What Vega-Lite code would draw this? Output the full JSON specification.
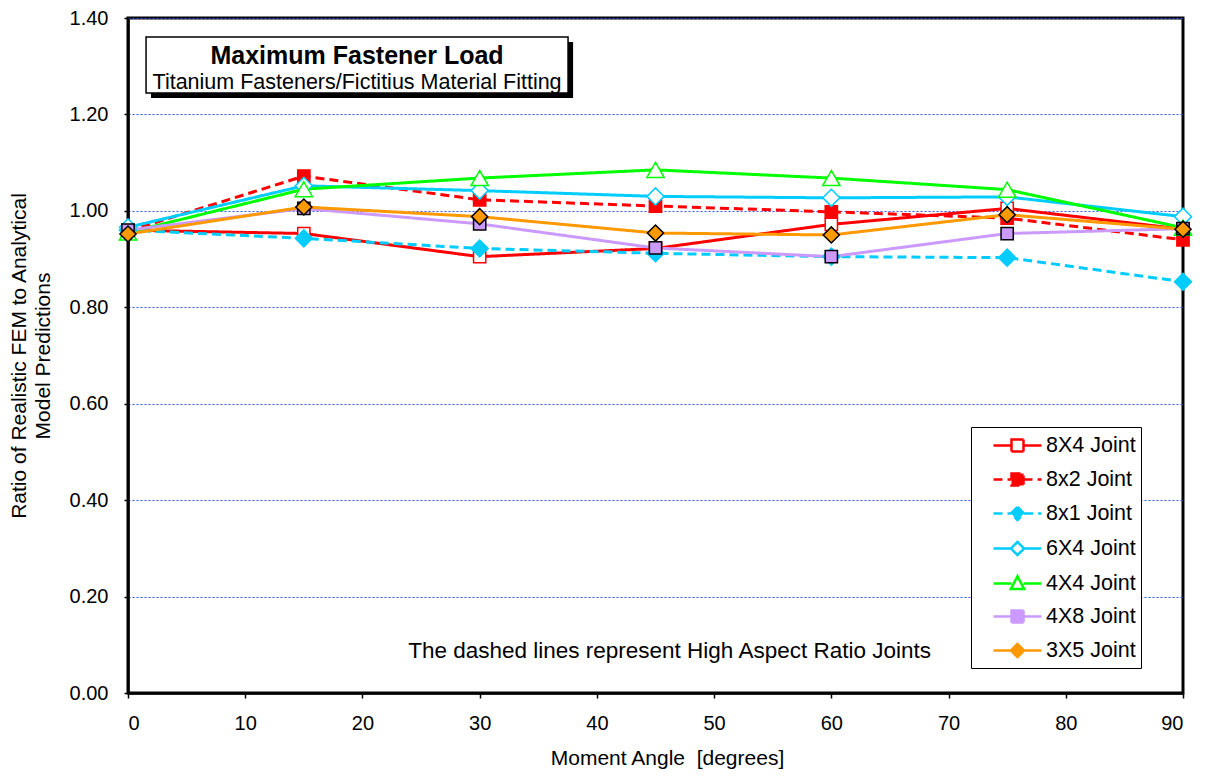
{
  "$schema": "https://vega.github.io/schema/vega-lite/v6.json",
  "autosize": "none",
  "width": 1055,
  "height": 675,
  "padding": {"left": 128, "top": 18, "right": 22, "bottom": 83},
  "background": "white",
  "config": {
    "font": "Liberation Sans",
    "view": {"stroke": "black", "strokeWidth": 3},
    "axis": {"labelFont": "Liberation Sans", "titleFont": "Liberation Sans", "labelColor": "black", "titleColor": "black", "titleFontWeight": "normal", "domainColor": "black", "domainWidth": 2.5, "tickColor": "black", "tickWidth": 1.5, "labelFontSize": 20, "titleFontSize": 21},
    "axisX": {"grid": false, "tickSize": 5, "labelPadding": 15, "titlePadding": 14},
    "axisY": {"grid": true, "gridColor": "#3355ff", "gridDash": [2, 2], "gridWidth": 1, "tickSize": 4, "labelPadding": 16, "titlePadding": 16, "titleLineHeight": 24},
    "legend": {"symbolOpacity": 1, "symbolSize": 576, "symbolStrokeWidth": 2.5, "labelFontSize": 21.5, "labelFont": "Liberation Sans", "labelColor": "black"}
  },
  "datasets": {
    "joints": [
      {"series": "8X4 Joint", "angle": 0, "ratio": 0.960},
      {"series": "8X4 Joint", "angle": 15, "ratio": 0.953},
      {"series": "8X4 Joint", "angle": 30, "ratio": 0.905},
      {"series": "8X4 Joint", "angle": 45, "ratio": 0.922},
      {"series": "8X4 Joint", "angle": 60, "ratio": 0.972},
      {"series": "8X4 Joint", "angle": 75, "ratio": 1.005},
      {"series": "8X4 Joint", "angle": 90, "ratio": 0.962},
      {"series": "8x2 Joint", "angle": 0, "ratio": 0.958},
      {"series": "8x2 Joint", "angle": 15, "ratio": 1.072},
      {"series": "8x2 Joint", "angle": 30, "ratio": 1.023},
      {"series": "8x2 Joint", "angle": 45, "ratio": 1.010},
      {"series": "8x2 Joint", "angle": 60, "ratio": 0.998},
      {"series": "8x2 Joint", "angle": 75, "ratio": 0.985},
      {"series": "8x2 Joint", "angle": 90, "ratio": 0.940},
      {"series": "8x1 Joint", "angle": 0, "ratio": 0.960},
      {"series": "8x1 Joint", "angle": 15, "ratio": 0.943},
      {"series": "8x1 Joint", "angle": 30, "ratio": 0.922},
      {"series": "8x1 Joint", "angle": 45, "ratio": 0.912},
      {"series": "8x1 Joint", "angle": 60, "ratio": 0.905},
      {"series": "8x1 Joint", "angle": 75, "ratio": 0.903},
      {"series": "8x1 Joint", "angle": 90, "ratio": 0.853},
      {"series": "6X4 Joint", "angle": 0, "ratio": 0.966},
      {"series": "6X4 Joint", "angle": 15, "ratio": 1.052},
      {"series": "6X4 Joint", "angle": 30, "ratio": 1.042},
      {"series": "6X4 Joint", "angle": 45, "ratio": 1.030},
      {"series": "6X4 Joint", "angle": 60, "ratio": 1.027},
      {"series": "6X4 Joint", "angle": 75, "ratio": 1.029},
      {"series": "6X4 Joint", "angle": 90, "ratio": 0.988},
      {"series": "4X4 Joint", "angle": 0, "ratio": 0.955},
      {"series": "4X4 Joint", "angle": 15, "ratio": 1.045},
      {"series": "4X4 Joint", "angle": 30, "ratio": 1.068},
      {"series": "4X4 Joint", "angle": 45, "ratio": 1.085},
      {"series": "4X4 Joint", "angle": 60, "ratio": 1.068},
      {"series": "4X4 Joint", "angle": 75, "ratio": 1.044},
      {"series": "4X4 Joint", "angle": 90, "ratio": 0.965},
      {"series": "4X8 Joint", "angle": 0, "ratio": 0.960},
      {"series": "4X8 Joint", "angle": 15, "ratio": 1.005},
      {"series": "4X8 Joint", "angle": 30, "ratio": 0.973},
      {"series": "4X8 Joint", "angle": 45, "ratio": 0.923},
      {"series": "4X8 Joint", "angle": 60, "ratio": 0.905},
      {"series": "4X8 Joint", "angle": 75, "ratio": 0.953},
      {"series": "4X8 Joint", "angle": 90, "ratio": 0.963},
      {"series": "3X5 Joint", "angle": 0, "ratio": 0.952},
      {"series": "3X5 Joint", "angle": 15, "ratio": 1.008},
      {"series": "3X5 Joint", "angle": 30, "ratio": 0.988},
      {"series": "3X5 Joint", "angle": 45, "ratio": 0.954},
      {"series": "3X5 Joint", "angle": 60, "ratio": 0.950},
      {"series": "3X5 Joint", "angle": 75, "ratio": 0.992},
      {"series": "3X5 Joint", "angle": 90, "ratio": 0.962}
    ],
    "one": [{"item": "annotation"}]
  },
  "layer": [
    {
      "data": {"name": "joints"},
      "mark": {"type": "line", "strokeWidth": 3},
      "encoding": {
        "x": {"field": "angle", "type": "quantitative",
          "scale": {"domain": [0, 90], "nice": false, "zero": false},
          "axis": {"values": [0,10,20,30,40,50,60,70,80,90], "title": "Moment Angle \u00a0[degrees]", "titleX": 539}},
        "y": {"field": "ratio", "type": "quantitative",
          "scale": {"domain": [0, 1.4], "nice": false},
          "axis": {"values": [0,0.2,0.4,0.6,0.8,1.0,1.2,1.4], "format": ".2f", "title": ["Ratio of Realistic FEM to Analytical", "Model Predictions"]}},
        "color": {"field": "series", "type": "nominal",
          "scale": {"domain": ["8X4 Joint","8x2 Joint","8x1 Joint","6X4 Joint","4X4 Joint","4X8 Joint","3X5 Joint"],
                    "range": ["#ff0000","#ff0000","#00ccff","#00ccff","#00ff00","#cc99ff","#ff9900"]},
          "legend": {
            "title": null, "orient": "none", "legendX": 843, "legendY": 409,
            "fillColor": "white", "strokeColor": "black", "padding": 5,
            "symbolOffset": 28, "labelOffset": 15, "rowPadding": 9
          }},
        "strokeDash": {"field": "series", "type": "nominal",
          "scale": {"domain": ["8X4 Joint","8x2 Joint","8x1 Joint","6X4 Joint","4X4 Joint","4X8 Joint","3X5 Joint"],
                    "range": [[1,0],[9,5],[9,5],[1,0],[1,0],[1,0],[1,0]]}}
      }
    },
    {
      "data": {"name": "joints"},
      "mark": {"type": "point", "opacity": 0},
      "encoding": {
        "x": {"field": "angle", "type": "quantitative"},
        "y": {"field": "ratio", "type": "quantitative"},
        "shape": {"field": "series", "type": "nominal",
          "scale": {"domain": ["8X4 Joint","8x2 Joint","8x1 Joint","6X4 Joint","4X4 Joint","4X8 Joint","3X5 Joint"],
                    "range": [
                      "M-2,0H-0.5M0.5,0H2M-0.5,-0.5H0.5V0.5H-0.5Z",
                      "M-2,0H-0.5M0.5,0H2M-0.5,-0.5H0.5V0.5H-0.5Z",
                      "M-2,0H-0.55M0.55,0H2M0,-0.55L0.55,0L0,0.55L-0.55,0Z",
                      "M-2,0H-0.55M0.55,0H2M0,-0.55L0.55,0L0,0.55L-0.55,0Z",
                      "M-2,0H-0.5M0.5,0H2M0,-0.6L0.55,0.45L-0.55,0.45Z",
                      "M-2,0H-0.5M0.5,0H2M-0.5,-0.5H0.5V0.5H-0.5Z",
                      "M-2,0H-0.55M0.55,0H2M0,-0.55L0.55,0L0,0.55L-0.55,0Z"
                    ]},
          "legend": {
            "title": null, "orient": "none", "legendX": 843, "legendY": 409,
            "fillColor": "white", "strokeColor": "black", "padding": 5,
            "symbolOffset": 28, "labelOffset": 15, "rowPadding": 9
          }}
      }
    },
    {
      "data": {"name": "joints"},
      "transform": [{"filter": {"field": "series", "oneOf": ["8X4 Joint", "8x2 Joint"]}}],
      "mark": {"type": "point", "shape": "square", "filled": false, "strokeWidth": 1.5, "opacity": 1, "size": 150},
      "encoding": {
        "x": {"field": "angle", "type": "quantitative"},
        "y": {"field": "ratio", "type": "quantitative"},
        "color": {"field": "series", "type": "nominal"},
        "fill": {"field": "series", "type": "nominal",
          "scale": {"domain": ["8X4 Joint","8x2 Joint","8x1 Joint","6X4 Joint","4X4 Joint","4X8 Joint","3X5 Joint"],
                    "range": ["white","#ff0000","#00ccff","white","white","#cc99ff","#ff9900"]}}
      }
    },
    {
      "data": {"name": "joints"},
      "transform": [{"filter": {"field": "series", "oneOf": ["8x1 Joint", "6X4 Joint"]}}],
      "mark": {"type": "point", "shape": "diamond", "filled": false, "strokeWidth": 1.5, "opacity": 1, "size": 290},
      "encoding": {
        "x": {"field": "angle", "type": "quantitative"},
        "y": {"field": "ratio", "type": "quantitative"},
        "color": {"field": "series", "type": "nominal"},
        "fill": {"field": "series", "type": "nominal"}
      }
    },
    {
      "data": {"name": "joints"},
      "transform": [{"filter": {"field": "series", "equal": "4X4 Joint"}}],
      "mark": {"type": "point", "shape": "triangle-up", "filled": false, "strokeWidth": 1.5, "opacity": 1, "size": 300},
      "encoding": {
        "x": {"field": "angle", "type": "quantitative"},
        "y": {"field": "ratio", "type": "quantitative"},
        "color": {"field": "series", "type": "nominal"},
        "fill": {"field": "series", "type": "nominal"}
      }
    },
    {
      "data": {"name": "joints"},
      "transform": [{"filter": {"field": "series", "equal": "4X8 Joint"}}],
      "mark": {"type": "point", "shape": "square", "filled": false, "stroke": "black", "strokeWidth": 1.5, "opacity": 1, "size": 150},
      "encoding": {
        "x": {"field": "angle", "type": "quantitative"},
        "y": {"field": "ratio", "type": "quantitative"},
        "fill": {"field": "series", "type": "nominal"}
      }
    },
    {
      "data": {"name": "joints"},
      "transform": [{"filter": {"field": "series", "equal": "3X5 Joint"}}],
      "mark": {"type": "point", "shape": "diamond", "filled": false, "stroke": "black", "strokeWidth": 1.5, "opacity": 1, "size": 260},
      "encoding": {
        "x": {"field": "angle", "type": "quantitative"},
        "y": {"field": "ratio", "type": "quantitative"},
        "fill": {"field": "series", "type": "nominal"}
      }
    },
    {
      "data": {"name": "one"},
      "mark": {"type": "rect", "fill": "black"},
      "encoding": {
        "x": {"datum": 1.96, "type": "quantitative"},
        "x2": {"datum": 37.97},
        "y": {"datum": 1.350, "type": "quantitative"},
        "y2": {"datum": 1.234}
      }
    },
    {
      "data": {"name": "one"},
      "mark": {"type": "rect", "fill": "white", "stroke": "black", "strokeWidth": 1.5},
      "encoding": {
        "x": {"datum": 1.54, "type": "quantitative"},
        "x2": {"datum": 37.54},
        "y": {"datum": 1.3606, "type": "quantitative"},
        "y2": {"datum": 1.2445}
      }
    },
    {
      "data": {"name": "one"},
      "mark": {"type": "text", "font": "Liberation Sans", "fontWeight": "bold", "fontSize": 25, "align": "center", "baseline": "middle", "color": "black"},
      "encoding": {
        "x": {"datum": 19.54, "type": "quantitative"},
        "y": {"datum": 1.321, "type": "quantitative"},
        "text": {"value": "Maximum Fastener Load"}
      }
    },
    {
      "data": {"name": "one"},
      "mark": {"type": "text", "font": "Liberation Sans", "fontSize": 21.5, "align": "center", "baseline": "middle", "color": "black"},
      "encoding": {
        "x": {"datum": 19.54, "type": "quantitative"},
        "y": {"datum": 1.265, "type": "quantitative"},
        "text": {"value": "Titanium Fasteners/Fictitius Material Fitting"}
      }
    },
    {
      "data": {"name": "one"},
      "mark": {"type": "text", "font": "Liberation Sans", "fontSize": 22.5, "align": "center", "baseline": "middle", "color": "black"},
      "encoding": {
        "x": {"datum": 46.2, "type": "quantitative"},
        "y": {"datum": 0.087, "type": "quantitative"},
        "text": {"value": "The dashed lines represent High Aspect Ratio Joints"}
      }
    }
  ]
}
